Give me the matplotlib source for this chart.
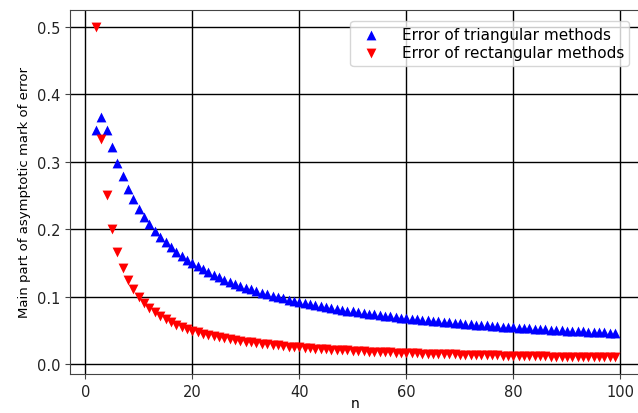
import matplotlib
matplotlib.use("Agg")
import matplotlib.pyplot as plt

# n = 2 .. 99
N = list(range(2, 100))

TRI = [0.3466, 0.3662, 0.3466, 0.3219, 0.2986, 0.2780, 0.2599, 0.2441, 0.2303,
       0.2180, 0.2071, 0.1973, 0.1885, 0.1805, 0.1733, 0.1667, 0.1606, 0.1550,
       0.1498, 0.1450, 0.1405, 0.1363, 0.1324, 0.1288, 0.1253, 0.1221, 0.1190,
       0.1161, 0.1134, 0.1108, 0.1083, 0.1060, 0.1037, 0.1016, 0.0995, 0.0976,
       0.0957, 0.0939, 0.0922, 0.0906, 0.0890, 0.0875, 0.0860, 0.0846, 0.0832,
       0.0819, 0.0807, 0.0794, 0.0782, 0.0771, 0.0760, 0.0749, 0.0739, 0.0729,
       0.0719, 0.0709, 0.0700, 0.0691, 0.0682, 0.0674, 0.0666, 0.0658, 0.0650,
       0.0642, 0.0635, 0.0628, 0.0621, 0.0614, 0.0607, 0.0600, 0.0594, 0.0588,
       0.0582, 0.0576, 0.0570, 0.0564, 0.0559, 0.0553, 0.0548, 0.0543, 0.0537,
       0.0532, 0.0527, 0.0523, 0.0518, 0.0513, 0.0509, 0.0504, 0.0500, 0.0496,
       0.0492, 0.0487, 0.0483, 0.0479, 0.0475, 0.0472, 0.0468, 0.0464]

RECT = [0.5, 0.3333, 0.25, 0.2, 0.1667, 0.1429, 0.125, 0.1111, 0.1, 0.0909,
        0.0833, 0.0769, 0.0714, 0.0667, 0.0625, 0.0588, 0.0556, 0.0526, 0.05,
        0.0476, 0.0455, 0.0435, 0.0417, 0.04, 0.0385, 0.037, 0.0357, 0.0345,
        0.0333, 0.0323, 0.0313, 0.0303, 0.0294, 0.0286, 0.0278, 0.027, 0.0263,
        0.0256, 0.025, 0.0244, 0.0238, 0.0233, 0.0227, 0.0222, 0.0217, 0.0213,
        0.0208, 0.0204, 0.02, 0.0196, 0.0192, 0.0189, 0.0185, 0.0182, 0.0179,
        0.0175, 0.0172, 0.0169, 0.0167, 0.0164, 0.0161, 0.0159, 0.0156, 0.0154,
        0.0152, 0.0149, 0.0147, 0.0145, 0.0143, 0.0141, 0.0139, 0.0137, 0.0135,
        0.0133, 0.0132, 0.013, 0.0128, 0.0127, 0.0125, 0.0123, 0.0122, 0.012,
        0.0119, 0.0118, 0.0116, 0.0115, 0.0114, 0.0112, 0.0111, 0.011, 0.0109,
        0.0108, 0.0106, 0.0105, 0.0104, 0.0103, 0.0102, 0.0101]

plt.rcParams.update({"font.family": "DejaVu Sans", "font.size": 10.5})

fig = plt.figure(figsize=(6.38, 4.14), dpi=100)
# the reference is cropped: the right spine falls just outside the picture
ax = fig.add_axes([70 / 638, 39 / 414, 571 / 638, 364 / 414])

ax.scatter(N, TRI, marker="^", color="blue", s=50, linewidths=0,
           label="Error of triangular methods", zorder=3)
ax.scatter(N, RECT, marker="v", color="red", s=50, linewidths=0,
           label="Error of rectangular methods", zorder=3)

ax.grid(True, color="black", linewidth=1.0)
ax.set_axisbelow(True)
ax.set_xticks([0, 20, 40, 60, 80, 100])
ax.set_yticks([0.0, 0.1, 0.2, 0.3, 0.4, 0.5])
ax.set_xlabel("n", fontsize=10, labelpad=-2)
ax.set_ylabel("Main part of asymptotic mark of error", fontsize=9.5)
for s in ax.spines.values():
    s.set_color("#444444")
ax.tick_params(colors="#444444", labelcolor="#222222")
ax.legend(loc="upper right", bbox_to_anchor=(0.993, 0.99), fontsize=11,
          labelspacing=0.25, borderpad=0.35, handletextpad=1.0)

fig.savefig("out.png", dpi=100)
